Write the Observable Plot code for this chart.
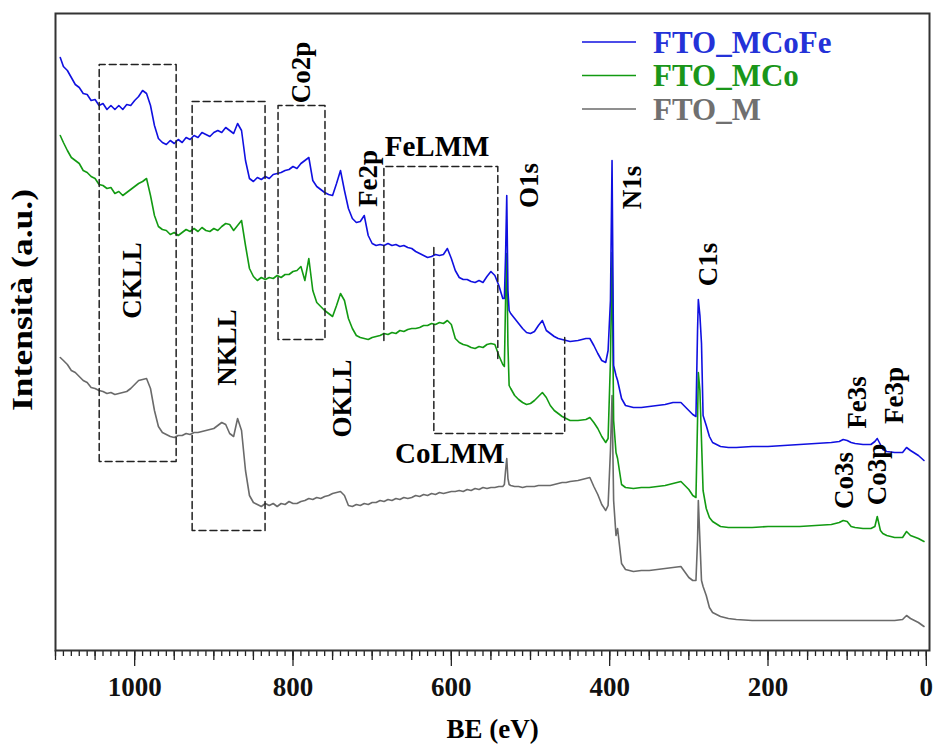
<!DOCTYPE html>
<html>
<head>
<meta charset="utf-8">
<script src="https://cdn.jsdelivr.net/npm/d3@7"></script>
<script src="https://cdn.jsdelivr.net/npm/@observablehq/plot@0.6"></script>
<style>
  body { margin: 0; background: #fff; }
  #chart { width: 933px; height: 744px; }
</style>
</head>
<body>
<div id="chart"></div>
<script>
// XPS survey spectra: binding energy grid (eV) and intensities (a.u.) per sample
const bindingEnergy = [
  1094, 1090, 1085, 1080, 1075, 1070, 1065, 1060, 1055, 1050,
  1045, 1040, 1035, 1030, 1025, 1020, 1015, 1010, 1005, 1000,
  995, 990, 985, 980, 975, 970, 965, 960, 955, 950,
  945, 940, 935, 930, 925, 920, 915, 910, 905, 900,
  895, 890, 885, 880, 875, 870, 865, 860, 855, 850,
  845, 840, 835, 830, 825, 820, 815, 810, 805, 800,
  795, 790, 785, 780, 775, 770, 765, 760, 755, 750,
  745, 740, 735, 730, 725, 720, 715, 710, 705, 700,
  695, 690, 685, 680, 675, 670, 665, 660, 655, 650,
  645, 640, 635, 630, 625, 620, 615, 610, 605, 600,
  595, 590, 585, 580, 575, 570, 565, 560, 555, 550,
  545, 540, 535, 533, 531.5, 530, 528.5, 527, 525, 520,
  515, 510, 505, 500, 495, 490, 485, 480, 475, 470,
  465, 460, 455, 450, 440, 430, 425, 420, 415, 410,
  405, 402, 399, 397, 395, 392, 390, 385, 380, 370,
  360, 350, 340, 330, 320, 310, 300, 295, 291, 289,
  288, 286, 284, 282, 278, 274, 270, 260, 250, 240,
  220, 200, 180, 160, 140, 120, 110, 105, 100, 95,
  90, 80, 70, 65, 62, 58, 55, 50, 40, 30,
  25, 20, 10, 3
];

const fto_MCoFe = [
  593, 584, 580, 573, 566, 563, 557, 556, 550, 551,
  545, 547, 541, 545, 541, 545, 541, 546, 545, 550,
  554, 560, 557, 545, 525, 512, 508, 506, 510, 507,
  511, 508, 513, 511, 515, 513, 518, 516, 514, 518,
  520, 518, 523, 520, 517, 527, 520, 490, 472, 469,
  473, 471, 474, 472, 476, 477, 478, 480, 481, 484,
  482, 487, 490, 493, 470, 464, 461, 458, 456, 455,
  467, 480, 460, 442, 432, 428, 429, 435, 415, 407,
  405, 406, 405, 407, 405, 406, 404, 405, 403, 402,
  399, 397, 395, 393, 394, 396, 395, 396, 402, 392,
  380, 373, 371, 371, 369, 368, 370, 368, 374, 379,
  375, 365, 352, 352, 395, 455, 360, 340, 337, 332,
  327, 322, 318, 317, 319, 325, 330, 320, 317, 314,
  312, 311, 310, 309, 310, 312, 312, 305, 297, 290,
  288, 300, 350, 490, 285, 275, 270, 252, 245, 243,
  243, 244, 245, 246, 248, 248, 240, 236, 234, 320,
  351, 335, 307, 235, 225, 214, 208, 204, 203, 203,
  204, 204, 205, 206, 207, 208, 209, 211, 210, 208,
  207, 206, 206, 209, 212, 206, 201, 199, 198, 198,
  203, 200, 195, 190
];

const fto_MCo = [
  515, 508, 500, 493, 490, 487, 480, 478, 474, 472,
  466, 465, 462, 463, 457, 459, 455, 458, 461, 464,
  467, 469, 472, 455, 435, 424, 421, 420, 416, 418,
  415, 418, 421, 419, 422, 419, 423, 420, 419, 422,
  420, 424, 427, 426, 420, 425, 430, 405, 382, 374,
  370, 373, 371, 373, 372, 375, 373, 376, 376, 379,
  380, 384, 370, 392, 360, 348, 344, 340, 337, 334,
  345, 357, 350, 332, 322, 315, 313, 312, 311, 313,
  314, 315, 317, 316, 318, 317, 320, 319, 321, 322,
  322, 323, 325, 325, 327, 326, 328, 327, 330, 326,
  312, 308, 306, 305, 303, 302, 304, 303, 306, 307,
  306, 295, 286, 284, 350, 397, 305, 265, 262, 255,
  251, 248, 246, 247, 250, 254, 258, 253, 245, 240,
  237, 234, 232, 230, 230, 231, 233, 228, 222, 214,
  208, 212, 290, 398, 230, 198, 192, 166, 163, 162,
  163, 163, 164, 165, 167, 169, 161, 155, 153, 230,
  278, 260, 210, 160, 142, 133, 129, 124, 123, 123,
  123, 124, 124, 124, 125, 126, 128, 130, 129, 124,
  123, 122, 122, 124, 134, 120, 117, 115, 113, 113,
  119, 115, 112, 109
];

const fto_M = [
  293, 290, 286, 280, 278, 274, 270, 268, 263, 262,
  260, 259, 257, 258, 256, 257, 258, 259, 262, 266,
  270, 271, 272, 262, 240, 224, 218, 216, 214, 213,
  215, 215, 217, 216, 218, 218, 219, 220, 221, 222,
  225, 228, 226, 217, 214, 232, 220, 180, 155, 148,
  146, 144, 147, 145, 147, 144, 147, 146, 149, 147,
  147, 149, 150, 152, 151, 153, 152, 154, 155, 157,
  158, 159, 155, 145, 144, 146, 145, 147, 146, 148,
  148, 150, 149, 151, 150, 152, 151, 153, 152, 153,
  155, 154, 156, 155, 157, 156, 158, 157, 158, 159,
  159, 160, 159, 161, 160, 162, 161, 163, 162, 163,
  163, 164, 164, 166, 180, 192, 172, 166, 165, 164,
  164, 163, 164, 164, 164, 165, 165, 165, 165, 166,
  167, 168, 168, 169, 170, 172, 173, 164, 156, 146,
  140, 145, 200, 255, 150, 115, 122, 87, 81, 79,
  80, 80, 81, 82, 83, 84, 73, 70, 70, 110,
  150, 110, 70, 64, 55, 43, 38, 34, 32, 31,
  30, 30, 30, 30, 30, 30, 30, 30, 30, 30,
  30, 30, 30, 30, 30, 30, 30, 30, 30, 31,
  35, 32, 28, 24
];

const seriesNames = ["FTO_MCoFe", "FTO_MCo", "FTO_M"];
const majorTicks = [0, 200, 400, 600, 800, 1000];

// Peak / Auger labels: name, BE position, intensity level, rotation
const peakNames  = ["CKLL", "NKLL", "Co2p", "Fe2p", "OKLL", "O1s", "N1s", "C1s", "Fe3s", "Fe3p", "Co3s", "Co3p", "FeLMM", "CoLMM"];
const peakBE     = [1003, 883, 789, 705, 738, 502, 371, 275, 87, 40, 103, 62, 618, 602];
const peakLevel  = [370, 303, 578, 472, 252, 465, 463, 386, 248, 255, 170, 176, 504, 197];
const peakRotate = [-90, -90, -90, -90, -90, -90, -90, -90, -90, -90, -90, -90, 0, 0];

// Dashed regions marking the Auger / core-level windows (BE, intensity vertices)
const regionIds = ["CKLL", "NKLL", "Co2p", "FeLMM", "CoLMM"];
const regionBE = [
  [1044.8, 1044.8, 947.6, 947.6, 1044.8],
  [927.4, 927.4, 835.3, 835.3, 927.4],
  [818.9, 818.9, 759.6, 759.6, 818.9],
  [685.2, 685.2, 541.3, 541.3],
  [622.1, 622.1, 456.8, 456.8]
];
const regionLevel = [
  [189, 586, 586, 189, 189],
  [120, 549, 549, 120, 120],
  [311, 545, 545, 311, 311],
  [310, 484, 484, 290],
  [403, 217, 217, 313]
];

const lineColors = ["#1010e0", "#129a12", "#6a6a6a"];
const textColors = ["#2432d8", "#1a961a", "#707070"];
const serif = "'Liberation Serif', 'Times New Roman', serif";

const seriesValues = [fto_MCoFe, fto_MCo, fto_M];
seriesValues.forEach((v, k) => {
  if (v.length !== bindingEnergy.length) throw new Error(seriesNames[k] + " length " + v.length + " vs " + bindingEnergy.length);
});
const spectra = seriesNames.map((name, k) =>
  bindingEnergy.map((be, i) => ({ be, intensity: seriesValues[k][i], sample: name }))
);
const labels = peakNames.map((name, i) => ({ name, be: peakBE[i], level: peakLevel[i], rotate: peakRotate[i] }));
const regions = regionIds.flatMap((id, r) =>
  regionBE[r].map((be, j) => ({ id, be, level: regionLevel[r][j] }))
);

const axisStyle = { stroke: "#222", strokeWidth: 1.3 };

const chart = Plot.plot({
  width: 933,
  height: 744,
  marginLeft: 55,
  marginRight: 4,
  marginTop: 13,
  marginBottom: 94,
  style: { fontFamily: serif, fontWeight: "bold", fontSize: "27px", color: "#000", background: "#fff", overflow: "visible" },
  x: { domain: [1100, -4], label: null },
  y: { domain: [0, 637], axis: null },
  marks: [
    Plot.axisX({ ticks: d3.range(0, 1101, 10), tickSize: 6, text: null, label: null, ...axisStyle }),
    Plot.axisX({ ticks: d3.range(0, 1101, 50), tickSize: 10, text: null, label: null, ...axisStyle }),
    Plot.axisX({ ticks: majorTicks, tickSize: 16, tickPadding: 10, label: null, tickFormat: d3.format("d"), fill: "#111", ...axisStyle }),
    Plot.line(spectra[2], { x: "be", y: "intensity", stroke: lineColors[2], strokeWidth: 1.6 }),
    Plot.line(spectra[1], { x: "be", y: "intensity", stroke: lineColors[1], strokeWidth: 1.6 }),
    Plot.line(spectra[0], { x: "be", y: "intensity", stroke: lineColors[0], strokeWidth: 1.6 }),
    Plot.line(regions, { x: "be", y: "level", z: "id", stroke: "#222", strokeWidth: 1.5, strokeDasharray: "7,4" }),
    Plot.text(labels.filter(d => d.rotate !== 0), { x: "be", y: "level", text: "name", rotate: -90, fill: "#000", fontSize: 27, fontWeight: "bold" }),
    Plot.text(labels.filter(d => d.rotate === 0), { x: "be", y: "level", text: "name", fill: "#000", fontSize: 29, fontWeight: "bold" }),
    Plot.text(["BE (eV)"], { frameAnchor: "bottom", dy: 87, fontSize: 27, fontWeight: "bold", fill: "#000" }),
    Plot.frame({ stroke: "#333", strokeWidth: 2 })
  ]
});

const svg = d3.select(chart);

// Vertical axis title on the left
svg.append("text")
  .attr("transform", "translate(22,300) rotate(-90)")
  .attr("text-anchor", "middle")
  .attr("dy", "0.35em")
  .attr("font-family", serif)
  .attr("font-weight", "bold")
  .attr("font-size", 29)
  .attr("textLength", 222)
  .attr("lengthAdjust", "spacingAndGlyphs")
  .attr("fill", "#000")
  .text("Intensità (a.u.)");

// Legend drawn inside the plotting frame, top right
const legend = svg.append("g")
  .attr("font-family", serif).attr("font-weight", "bold").attr("font-size", 31)
  .attr("text-anchor", "start");
seriesNames.forEach((name, i) => {
  const y = 42 + i * 33.5;
  legend.append("line").attr("x1", 582).attr("x2", 636).attr("y1", y).attr("y2", y)
    .attr("stroke", lineColors[i]).attr("stroke-width", 1.6);
  legend.append("text").attr("x", 653).attr("y", y).attr("dy", "0.35em")
    .attr("fill", textColors[i]).text(name);
});

document.getElementById("chart").appendChild(chart);
</script>
</body>
</html>
